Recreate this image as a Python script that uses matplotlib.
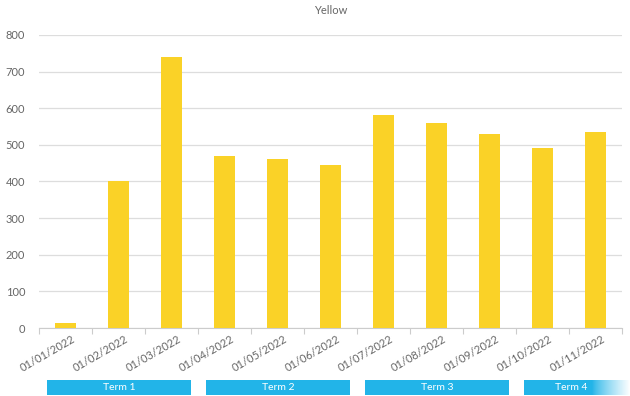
import matplotlib.pyplot as plt
import matplotlib.patches as patches
import matplotlib.transforms as mtransforms
import numpy as np

# data
months = ['01/01/2022', '01/02/2022', '01/03/2022', '01/04/2022', '01/05/2022', '01/06/2022',
          '01/07/2022', '01/08/2022', '01/09/2022', '01/10/2022', '01/11/2022']
values = [14, 400, 740, 470, 462, 445, 582, 560, 530, 492, 535]
terms = ['Term 1', 'Term 2', 'Term 3', 'Term 4']
term_first = [0, 3, 6, 9]
term_last = [2, 5, 8, 11]

plt.rcParams['font.family'] = ['Lato', 'DejaVu Sans']
grey = '#666666'

fig = plt.figure(figsize=(6.3, 3.96), dpi=100)
ax = fig.add_axes([0.0619, 0.1717, 0.9254, 0.74])

x = np.arange(len(months))
ax.bar(x, values, width=0.41, color='#FAD227', zorder=3)

ax.set_xlim(-0.5, len(months) - 0.5)
ax.set_ylim(0, 800)
ax.set_yticks(range(0, 801, 100))
ax.yaxis.grid(True, color='#dddddd', linewidth=0.9, zorder=0)
ax.tick_params(axis='y', length=0, colors=grey, labelsize=8, pad=10)

# x ticks at category boundaries, labels at centers
ax.set_xticks(np.arange(-0.5, len(months), 1.0))
ax.set_xticklabels([])
ax.set_xticks(x, minor=True)
ax.set_xticklabels(months, minor=True, rotation=30, ha='right', rotation_mode='anchor',
                   color=grey, fontsize=8)
ax.tick_params(axis='x', which='major', length=4, color='#cccccc')
ax.tick_params(axis='x', which='minor', length=0, pad=4)
shift = mtransforms.ScaledTranslation(6 / 100, 0, fig.dpi_scale_trans)
for lbl in ax.get_xticklabels(minor=True):
    lbl.set_transform(lbl.get_transform() + shift)

for s in ['top', 'right', 'left']:
    ax.spines[s].set_visible(False)
ax.spines['bottom'].set_color('#cccccc')

ax.set_title('Yellow', fontsize=8, color=grey, pad=15)

# term bands below the axis
trans = mtransforms.blended_transform_factory(ax.transData, fig.transFigure)
for name, a, b in zip(terms, term_first, term_last):
    x0 = a - 0.5 + 0.15
    x1 = b + 0.5 - 0.13
    rect = patches.Rectangle((x0, 0.003), x1 - x0, 0.038, transform=trans,
                             facecolor='#22B4E8', edgecolor='none', clip_on=False)
    ax.add_artist(rect)
    xm = x0 + 0.9 if b > len(months) - 1 else (x0 + x1) / 2
    ax.text(xm, 0.022, name, transform=trans, ha='center', va='center',
            color='white', fontsize=7.5, clip_on=False)

# fade out on the right edge
fade = fig.add_axes([0.94, 0.0, 0.06, 0.06])
ramp = np.zeros((1, 100, 4))
ramp[..., :3] = 1.0
ramp[..., 3] = np.linspace(0, 1, 100) ** 0.8
fade.imshow(ramp, aspect='auto', extent=[0, 1, 0, 1])
fade.axis('off')

fig.savefig('out.png', dpi=100)
